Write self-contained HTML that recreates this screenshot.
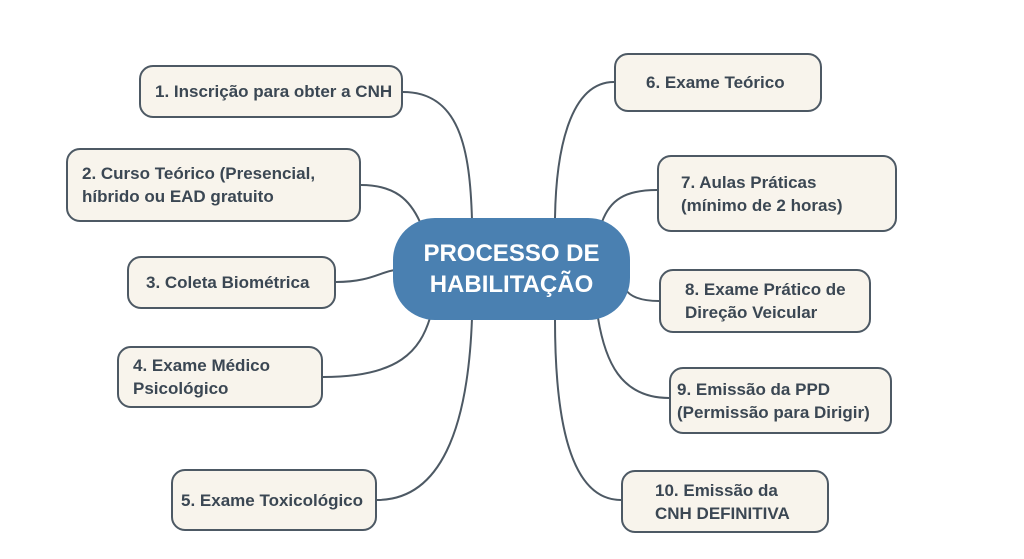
<!DOCTYPE html>
<html><head><meta charset="utf-8"><style>
body{margin:0;width:1024px;height:559px;background:#fff;position:relative;overflow:hidden;font-family:"Liberation Sans",sans-serif}
.b{position:absolute;box-sizing:border-box;background:#f8f4ec;border:2.5px solid #4d5964;border-radius:14px;color:#3b4753;font-weight:bold;font-size:17px;line-height:23px;display:flex;align-items:center;padding-left:14px;white-space:nowrap}
.c{position:absolute;left:393px;top:218px;width:237px;height:102px;background:#4a80b1;border-radius:42px;color:#fff;font-weight:bold;font-size:24px;line-height:31px;text-align:center;display:flex;align-items:center;justify-content:center}
svg{position:absolute;left:0;top:0}
</style></head><body>
<svg width="1024" height="559" fill="none" stroke="#4d5964" stroke-width="2">
<path d="M403 92 C460 92 470 150 472 220"/>
<path d="M361 185 C395 185 410 200 420 222"/>
<path d="M336 282 C370 282 380 272 395 270"/>
<path d="M323 377 C400 377 420 350 430 318"/>
<path d="M377 500 C440 500 468 430 472 318"/>
<path d="M614 82 C570 82 556 150 555 218"/>
<path d="M657 190 C625 190 610 200 602 222"/>
<path d="M659 301 C640 301 630 296 626 290"/>
<path d="M669 398 C620 398 605 360 598 318"/>
<path d="M621 500 C570 500 555 420 555 320"/>
</svg>
<div class="b" style="left:139px;top:65px;width:264px;height:53px">1. Inscrição para obter a CNH</div>
<div class="b" style="left:66px;top:148px;width:295px;height:74px">2. Curso Teórico (Presencial,<br>híbrido ou EAD gratuito</div>
<div class="b" style="left:127px;top:256px;width:209px;height:53px;padding-left:17px">3. Coleta Biométrica</div>
<div class="b" style="left:117px;top:346px;width:206px;height:62px">4. Exame Médico<br>Psicológico</div>
<div class="b" style="left:171px;top:469px;width:206px;height:62px;padding-left:8px">5. Exame Toxicológico</div>
<div class="b" style="left:614px;top:53px;width:208px;height:59px;padding-left:30px">6. Exame Teórico</div>
<div class="b" style="left:657px;top:155px;width:240px;height:77px;padding-left:22px">7. Aulas Práticas<br>(mínimo de 2 horas)</div>
<div class="b" style="left:659px;top:269px;width:212px;height:64px;padding-left:24px">8. Exame Prático de<br>Direção Veicular</div>
<div class="b" style="left:669px;top:367px;width:223px;height:67px;padding-left:6px">9. Emissão da PPD<br>(Permissão para Dirigir)</div>
<div class="b" style="left:621px;top:470px;width:208px;height:63px;padding-left:32px">10. Emissão da<br>CNH DEFINITIVA</div>
<div class="c">PROCESSO DE<br>HABILITAÇÃO</div>
</body></html>
